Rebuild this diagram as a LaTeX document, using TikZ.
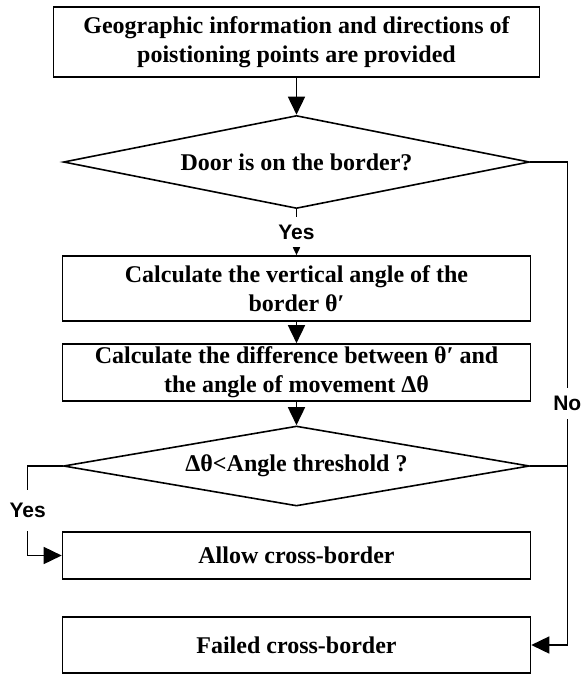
\documentclass[tikz,border=0pt]{standalone}
\usepackage{fontspec}
\setmainfont{Liberation Serif}
\setsansfont{Liberation Sans}
\usetikzlibrary{shapes.geometric, positioning, arrows.meta}

\begin{document}
\begin{tikzpicture}[node distance=44.75pt, on grid, line width=0.8pt,
  >={Triangle[length=9pt, width=8.5pt]},
  every node/.style={font=\bfseries\fontsize{12}{14.5}\selectfont},
  process/.style={draw, rectangle, align=center, minimum width=234pt, inner sep=1pt},
  decision/.style={draw, diamond, aspect=5, minimum width=233pt, inner sep=0pt},
  answer/.style={font=\sffamily\bfseries\fontsize{10.5}{12}\selectfont, fill=white, inner xsep=1pt}]
  \useasboundingbox (-148.25pt,21pt) rectangle (144.75pt,-316.5pt);

  \node[process, minimum width=243pt, minimum height=35pt] (info)
    {Geographic information and directions of\\poistioning points are provided};
  \node[decision, minimum height=46.5pt] (door) [below=60pt of info] {Door is on the border?};
  \node[process, minimum height=32.5pt] (vert) [below=63.25pt of door]
    {Calculate the vertical angle of the\\border θ′};
  \node[process, minimum height=28.5pt] (diff) [below=42pt of vert]
    {Calculate the difference between θ′ and\\the angle of movement Δθ};
  \node[decision, minimum height=40pt] (thres) [below=46.75pt of diff] {Δθ<Angle threshold ?};
  \node[process, minimum height=23.5pt] (allow) [below=of thres] {Allow cross-border};
  \node[process, minimum height=28pt] (fail) [below=of allow] {Failed cross-border};

  \path[->]
  (info) edge (door)
  (door) edge[-{Triangle[length=4pt, width=3.5pt]}] node[answer, inner ysep=3.8pt] {Yes} (vert)
  (vert) edge (diff)
  (diff) edge (thres);

  % No branch down the right side
  \draw[->] (door.east) -- ++(18.5pt,0) coordinate (nobend)
    |- node[pos=0.25, answer, inner ysep=4.3pt] {No} (fail.east);
  \draw (thres.east) -- (thres.east -| nobend);
  % Yes branch on the left
  \draw[->] (thres.west) -- ++(-17.5pt,0)
    |- node[pos=0.25, answer, inner ysep=6.5pt] {Yes} (allow.west);
\end{tikzpicture}
\end{document}
